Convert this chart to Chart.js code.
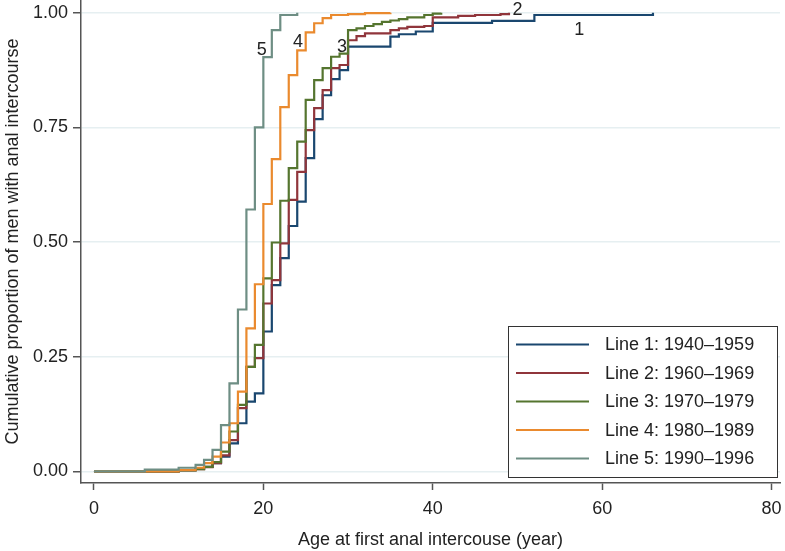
<!DOCTYPE html>
<html>
<head>
<meta charset="utf-8">
<script src="https://cdn.jsdelivr.net/npm/chart.js@4.4.0/dist/chart.umd.min.js"></script>
<style>
  body { margin: 0; background: #fff; }
  #wrap { width: 785px; height: 551px; }
</style>
</head>
<body>
<div id="wrap"><canvas id="mycanvas" width="785" height="551"></canvas></div>
<script>
// ages (years) where each curve steps, and the cumulative proportion after the step
var ages1 = [0, 10, 12, 13, 14, 15, 16, 17, 18, 19, 20, 21, 22, 23, 24, 25, 26, 27, 28, 29, 30, 35, 36, 38, 40, 47, 52, 66];
var cum1  = [0, 0.003, 0.006, 0.01, 0.018, 0.032, 0.061, 0.105, 0.152, 0.17, 0.305, 0.406, 0.465, 0.535, 0.588, 0.683, 0.768, 0.82, 0.855, 0.875, 0.926, 0.948, 0.953, 0.959, 0.978, 0.982, 0.995, 1.0];

var ages2 = [0, 10, 12, 13, 14, 15, 16, 17, 18, 19, 20, 21, 22, 23, 24, 25, 26, 27, 28, 29, 30, 31, 32, 35, 36, 37, 39, 40, 43, 45, 48, 49];
var cum2  = [0, 0.002, 0.005, 0.009, 0.018, 0.035, 0.068, 0.138, 0.228, 0.247, 0.366, 0.417, 0.497, 0.592, 0.653, 0.744, 0.792, 0.831, 0.879, 0.886, 0.94, 0.949, 0.955, 0.962, 0.966, 0.969, 0.971, 0.99, 0.993, 0.995, 0.997, 1.0];

var ages3 = [0, 10, 12, 13, 14, 15, 16, 17, 18, 19, 20, 21, 22, 23, 24, 25, 26, 27, 28, 29, 30, 31, 32, 33, 34, 35, 36, 37, 39, 40, 41];
var cum3  = [0, 0.002, 0.005, 0.01, 0.02, 0.043, 0.087, 0.145, 0.228, 0.276, 0.421, 0.499, 0.59, 0.661, 0.719, 0.81, 0.853, 0.879, 0.904, 0.911, 0.962, 0.966, 0.971, 0.975, 0.98, 0.983, 0.986, 0.99, 0.995, 0.998, 1.0];

var ages4 = [0, 10, 12, 13, 14, 15, 16, 17, 18, 19, 20, 21, 22, 23, 24, 25, 26, 27, 28, 30, 32, 35];
var cum4  = [0, 0.003, 0.008, 0.018, 0.032, 0.063, 0.105, 0.174, 0.312, 0.408, 0.583, 0.681, 0.794, 0.864, 0.918, 0.957, 0.977, 0.988, 0.995, 0.997, 0.999, 1.0];

var ages5 = [0, 6, 10, 12, 13, 14, 15, 16, 17, 18, 19, 20, 21, 22, 24];
var cum5  = [0, 0.004, 0.008, 0.014, 0.025, 0.047, 0.101, 0.192, 0.353, 0.571, 0.75, 0.903, 0.962, 0.995, 1.0];

var seriesNames = ["Line 1: 1940\u20131959", "Line 2: 1960\u20131969", "Line 3: 1970\u20131979", "Line 4: 1980\u20131989", "Line 5: 1990\u20131996"];
var curveTags = ["1", "2", "3", "4", "5"];
var xTicks = [0, 20, 40, 60, 80];
var yTicks = [0, 0.25, 0.5, 0.75, 1];

var colors = ["#1a476f", "#90353b", "#55752f", "#ea8a2e", "#6e8e84"];
var FONT = "'Liberation Sans', Arial, Helvetica, sans-serif";

function pts(a, v) {
  var out = [];
  for (var i = 0; i < a.length; i++) out.push({x: a[i], y: v[i]});
  return out;
}

var allAges = [ages1, ages2, ages3, ages4, ages5];
var allCum = [cum1, cum2, cum3, cum4, cum5];
var datasets = [];
for (var i = 0; i < 5; i++) {
  datasets.push({
    label: seriesNames[i],
    data: pts(allAges[i], allCum[i]),
    borderColor: colors[i],
    borderWidth: 2.2,
    stepped: true,
    pointRadius: 0,
    fill: false,
    order: 5 - i   // line 5 ends up on top
  });
}

// number tags next to each curve (data coords)
var tagPos = [[57.3, 0.962], [50.0, 1.005], [29.3, 0.925], [24.1, 0.935], [19.8, 0.919]];

var tagPlugin = {
  id: "tags",
  afterDatasetsDraw: function(chart) {
    var ctx = chart.ctx, xs = chart.scales.x, ys = chart.scales.y;
    ctx.save();
    ctx.font = "18px " + FONT;
    ctx.fillStyle = "#222";
    ctx.textAlign = "center";
    ctx.textBaseline = "middle";
    for (var i = 0; i < curveTags.length; i++) {
      ctx.fillText(curveTags[i], xs.getPixelForValue(tagPos[i][0]), ys.getPixelForValue(tagPos[i][1]));
    }
    ctx.restore();
  }
};

// boxed legend in the lower right of the plot
var legendPlugin = {
  id: "boxlegend",
  afterDraw: function(chart) {
    var ctx = chart.ctx, ca = chart.chartArea;
    var right = ca.right - 3, bottom = ca.bottom - 6;
    var left = right - 269, top = bottom - 151;
    ctx.save();
    ctx.fillStyle = "#fff";
    ctx.fillRect(left, top, right - left, bottom - top);
    ctx.strokeStyle = "#333";
    ctx.lineWidth = 1;
    ctx.strokeRect(left + 0.5, top + 0.5, right - left, bottom - top);
    ctx.font = "18px " + FONT;
    ctx.textBaseline = "middle";
    ctx.textAlign = "left";
    for (var i = 0; i < chart.data.datasets.length; i++) {
      var ds = chart.data.datasets[i];
      var y = top + 18.5 + i * 28.5;
      ctx.strokeStyle = ds.borderColor;
      ctx.lineWidth = 2.2;
      ctx.beginPath();
      ctx.moveTo(left + 8, y);
      ctx.lineTo(left + 81, y);
      ctx.stroke();
      ctx.fillStyle = "#222";
      ctx.fillText(ds.label, left + 97, y + 1);
    }
    ctx.restore();
  }
};

var ctx = document.getElementById("mycanvas");
var chart = new Chart(ctx, {
  type: "line",
  data: { datasets: datasets },
  plugins: [tagPlugin, legendPlugin],
  options: {
    responsive: false,
    animation: false,
    layout: { padding: { top: 0, right: 5, bottom: 0, left: 0 } },
    plugins: { legend: { display: false }, tooltip: { enabled: false } },
    scales: {
      x: {
        type: "linear",
        min: -1.53,
        max: 81,
        afterBuildTicks: function(s) { s.ticks = xTicks.map(function(v) { return {value: v}; }); },
        afterFit: function(s) { s.height = 68; s.paddingLeft = 0; s.paddingRight = 0; },
        ticks: { color: "#222", font: { size: 18, family: FONT }, padding: 8, autoSkip: false, maxRotation: 0 },
        grid: { drawOnChartArea: false, drawTicks: true, tickLength: 7, tickColor: "#555", tickWidth: 1.5 },
        border: { color: "#555", width: 1.5 },
        title: { display: true, text: "Age at first anal intercouse (year)", color: "#222",
                 font: { size: 18, family: FONT }, padding: { top: 0, bottom: 0 } }
      },
      y: {
        min: -0.0253,
        max: 1.0277,
        afterBuildTicks: function(s) { s.ticks = yTicks.map(function(v) { return {value: v}; }); },
        afterFit: function(s) { s.width = 81; s.paddingTop = 0; s.paddingBottom = 0; },
        ticks: { color: "#222", font: { size: 18, family: FONT }, padding: 5, autoSkip: false,
                 callback: function(v) { return v.toFixed(2); } },
        grid: { color: "#e6eff1", lineWidth: 1.5, tickLength: 8, tickColor: "#555", tickWidth: 1.5 },
        border: { color: "#555", width: 1.5 },
        title: { display: true, text: "Cumulative proportion of men with anal intercourse", color: "#222",
                 font: { size: 18, family: FONT }, padding: { top: 2, bottom: 0 } }
      }
    }
  }
});
</script>
</body>
</html>
